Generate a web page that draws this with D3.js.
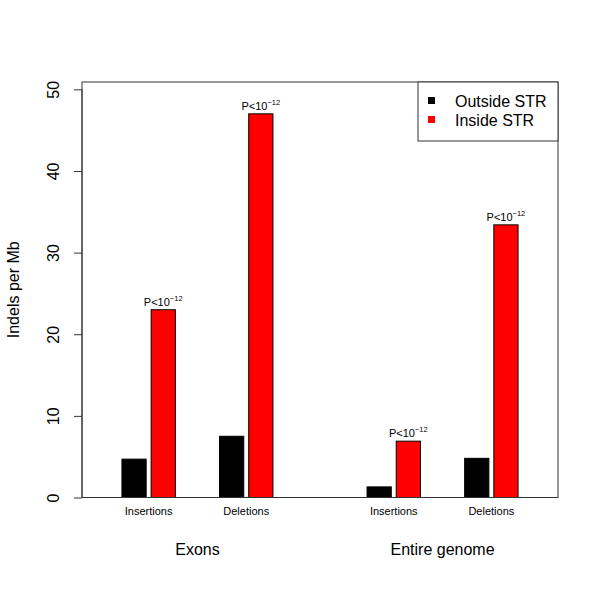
<!DOCTYPE html>
<html>
<head>
<meta charset="utf-8">
<script src="https://cdn.jsdelivr.net/npm/d3@7"></script>
<style>
  body { margin: 0; background: #fff; }
  svg { font-family: "Liberation Sans", Arial, sans-serif; }
</style>
</head>
<body>
<div id="chart"></div>
<script>
// data
const groups = ["Exons", "Entire genome"];
const types = ["Insertions", "Deletions"];
const series = ["Outside STR", "Inside STR"];
const seriesColors = ["#000000", "#ff0000"];
const outsideValues = [4.7, 7.5, 1.3, 4.8];   // Exons ins, Exons del, Genome ins, Genome del
const insideValues = [23.0, 47.0, 6.9, 33.4];
const yTicks = [0, 10, 20, 30, 40, 50];
const pLabel = "P<10";
const pExp = "\u221212";

const width = 600, height = 600;
const margin = { top: 82, right: 42, bottom: 103, left: 82 };

const svg = d3.select("#chart").append("svg")
  .attr("width", width)
  .attr("height", height);

const x0 = d3.scalePoint()
  .domain(groups)
  .range([margin.left, width - margin.right])
  .padding(0.471);

const x1 = d3.scalePoint()
  .domain(types)
  .range([-48.8, 48.8]);

const x2 = d3.scaleBand()
  .domain(series)
  .range([-26.7, 26.7])
  .paddingInner(0.17);

const y = d3.scaleLinear()
  .domain([0, 50.9])
  .range([height - margin.bottom + 0.5, margin.top]);

// flatten rows
const rows = [];
groups.forEach((g, gi) => {
  types.forEach((t, ti) => {
    const k = gi * types.length + ti;
    rows.push({ group: g, type: t, values: [outsideValues[k], insideValues[k]] });
  });
});

const color = d3.scaleOrdinal().domain(series).range(seriesColors);

// bars
rows.forEach(r => {
  const cx = x0(r.group) + x1(r.type);
  series.forEach((s, si) => {
    svg.append("rect")
      .attr("x", cx + x2(s))
      .attr("y", y(r.values[si]))
      .attr("width", x2.bandwidth())
      .attr("height", y(0) - y(r.values[si]))
      .attr("fill", color(s))
      .attr("stroke", "#000")
      .attr("stroke-width", 1);
  });
  // p-value label over the inside bar
  const ix = cx + x2(series[1]) + x2.bandwidth() / 2;
  const t = svg.append("text")
    .attr("x", ix)
    .attr("y", y(r.values[1]) - 4)
    .attr("text-anchor", "middle")
    .attr("font-size", 11)
    .attr("fill", "#000");
  t.append("tspan").text(pLabel);
  t.append("tspan").attr("dy", -5).attr("font-size", 7.5).text(pExp);

  // type label
  svg.append("text")
    .attr("x", cx)
    .attr("y", 515)
    .attr("text-anchor", "middle")
    .attr("font-size", 11)
    .attr("fill", "#000")
    .text(r.type);
});

// group labels
groups.forEach(g => {
  svg.append("text")
    .attr("x", x0(g))
    .attr("y", 555)
    .attr("text-anchor", "middle")
    .attr("font-size", 16)
    .attr("fill", "#000")
    .text(g);
});

// y axis
const yAxis = d3.axisLeft(y)
  .tickValues(yTicks)
  .tickSize(8)
  .tickPadding(0)
  .tickFormat(d3.format("d"));

const ya = svg.append("g")
  .attr("transform", `translate(${margin.left},0)`)
  .call(yAxis);
ya.select(".domain")
  .attr("d", `M0,${y(0)}V${y(50)}`)
  .attr("stroke", "#333");
ya.selectAll(".tick line").attr("stroke", "#333");
ya.selectAll(".tick text")
  .attr("font-size", 16)
  .attr("font-family", "Liberation Sans, Arial, sans-serif")
  .attr("fill", "#000")
  .attr("text-anchor", "middle")
  .attr("transform", "translate(-29,0) rotate(-90)")
  .attr("x", 0)
  .attr("y", 0)
  .attr("dy", "0.35em");

// box
svg.append("rect")
  .attr("x", margin.left)
  .attr("y", margin.top)
  .attr("width", width - margin.left - margin.right)
  .attr("height", y(0) - margin.top)
  .attr("fill", "none")
  .attr("stroke", "#333")
  .attr("stroke-width", 1);

// y label
svg.append("text")
  .attr("transform", `translate(19,${(margin.top + y(0)) / 2}) rotate(-90)`)
  .attr("text-anchor", "middle")
  .attr("font-size", 16)
  .attr("fill", "#000")
  .text("Indels per Mb");

// legend
const lg = svg.append("g");
lg.append("rect")
  .attr("x", 418)
  .attr("y", margin.top)
  .attr("width", width - margin.right - 418)
  .attr("height", 59)
  .attr("fill", "#fff")
  .attr("stroke", "#333");
series.forEach((s, i) => {
  lg.append("rect")
    .attr("x", 428)
    .attr("y", 97 + i * 19)
    .attr("width", 7)
    .attr("height", 7)
    .attr("fill", color(s));
  lg.append("text")
    .attr("x", 455)
    .attr("y", 101 + i * 19)
    .attr("dy", "0.35em")
    .attr("font-size", 16)
    .attr("fill", "#000")
    .text(s);
});
</script>
</body>
</html>
